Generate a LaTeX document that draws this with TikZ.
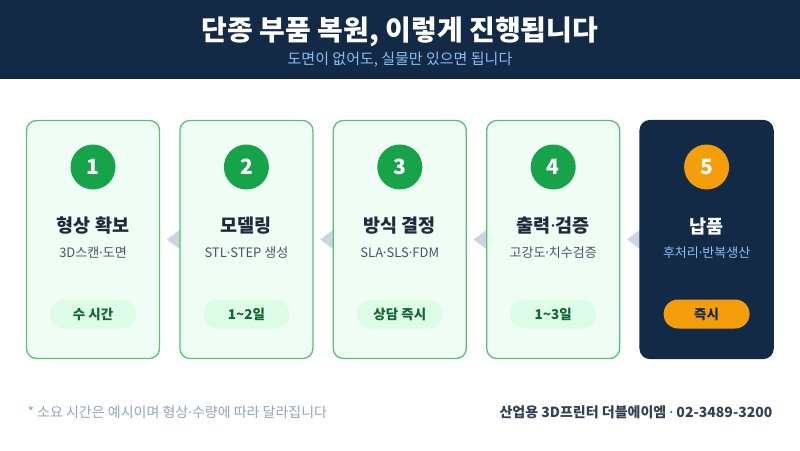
\documentclass[tikz,border=0pt]{standalone}
\usepackage{fontspec}
\setmainfont{Noto Sans CJK KR}
\newfontfamily\dotfont{Noto Sans}
\newcommand{\md}{{\dotfont\char"00B7}}
\usetikzlibrary{shapes.geometric,positioning,backgrounds}
\definecolor{navy}{HTML}{122A45}
\definecolor{stepgreen}{HTML}{16A34A}
\definecolor{cardfill}{HTML}{F0FDF4}
\definecolor{cardline}{HTML}{5BBF7A}
\definecolor{pillfill}{HTML}{DCFCE7}
\definecolor{pilltext}{HTML}{166534}
\definecolor{orange}{HTML}{F59E0B}
\definecolor{lightblue}{HTML}{8CBDF5}
\definecolor{titlec}{HTML}{1E293B}
\definecolor{subc}{HTML}{475569}
\definecolor{arrowc}{HTML}{CBD5E1}
\definecolor{notec}{HTML}{94A3B8}
\definecolor{footc}{HTML}{334155}

\begin{document}
\begin{tikzpicture}[x=1pt,y=-1pt]
\tikzstyle{card}=[rectangle, rounded corners=10pt, draw=cardline, line width=1.3pt,
	fill=cardfill, minimum width=133pt, minimum height=238pt, node distance=153.4pt]
\tikzstyle{num}=[circle, fill=stepgreen, minimum size=45pt, inner sep=0pt, text=white,
	font=\bfseries\fontsize{21}{24}\selectfont, node distance=153.4pt]
\tikzstyle{steptitle}=[text=titlec, font=\bfseries\fontsize{18.5}{22}\selectfont, node distance=153.4pt]
\tikzstyle{stepsub}=[text=subc, font=\fontsize{13}{16}\selectfont, node distance=153.4pt]
\tikzstyle{pill}=[rectangle, rounded corners=14.5pt, fill=pillfill, text=pilltext,
	minimum width=86pt, minimum height=29pt, inner sep=0pt,
	font=\bfseries\fontsize{13.5}{16}\selectfont, node distance=153.4pt]
\useasboundingbox (0,0) rectangle (800,450);

% header
\node[rectangle, fill=navy, minimum width=800pt, minimum height=79pt, inner sep=0pt] (head) at (400,39.5) {};
\node[text=white, font=\bfseries\fontsize{28}{32}\selectfont] (title) at (400,32) {단종 부품 복원, 이렇게 진행됩니다};
\node[text=lightblue, font=\fontsize{15}{18}\selectfont] (subtitle) at (400,60) {도면이 없어도, 실물만 있으면 됩니다};

% cards
\node[card] (c1) at (93,239.5) {};
\node[right of = c1,card] (c2) {};
\node[right of = c2,card] (c3) {};
\node[right of = c3,card] (c4) {};
\node[right of = c4,card,fill=navy,draw=navy] (c5) {};

% step numbers
\node[num] (n1) at (93,167) {1};
\node[right of = n1,num] (n2) {2};
\node[right of = n2,num] (n3) {3};
\node[right of = n3,num] (n4) {4};
\node[right of = n4,num,fill=orange] (n5) {5};

% step names
\node[steptitle] (t1) at (93,226) {형상 확보};
\node[right of = t1,steptitle] (t2) {모델링};
\node[right of = t2,steptitle] (t3) {방식 결정};
\node[right of = t3,steptitle] (t4) {출력\md 검증};
\node[right of = t4,steptitle,text=white] (t5) {납품};

\node[stepsub] (s1) at (93,253) {3D스캔\md 도면};
\node[right of = s1,stepsub] (s2) {STL\md STEP 생성};
\node[right of = s2,stepsub] (s3) {SLA\md SLS\md FDM};
\node[right of = s3,stepsub] (s4) {고강도\md 치수검증};
\node[right of = s4,stepsub,text=lightblue] (s5) {후처리\md 반복생산};

% durations
\node[pill] (p1) at (93,314) {수 시간};
\node[right of = p1,pill] (p2) {1\textasciitilde2일};
\node[right of = p2,pill] (p3) {상담 즉시};
\node[right of = p3,pill] (p4) {1\textasciitilde3일};
\node[right of = p4,pill,fill=orange,text=navy] (p5) {즉시};

% arrows between cards
\begin{scope}[on background layer]
\fill[arrowc] (c2.west) +(1,-10) -- +(-12.5,0) -- +(1,10) -- cycle;
\fill[arrowc] (c3.west) +(1,-10) -- +(-12.5,0) -- +(1,10) -- cycle;
\fill[arrowc] (c4.west) +(1,-10) -- +(-12.5,0) -- +(1,10) -- cycle;
\fill[arrowc] (c5.west) +(1,-10) -- +(-12.5,0) -- +(1,10) -- cycle;
\end{scope}

% footer
\node[anchor=west, text=notec, font=\fontsize{14}{16}\selectfont] (note) at (24,412) {* 소요 시간은 예시이며 형상\md 수량에 따라 달라집니다};
\node[anchor=east, text=footc, font=\bfseries\fontsize{14}{16}\selectfont] (foot) at (776,412) {산업용 3D프린터 더블에이엠 \md{} 02-3489-3200};

\end{tikzpicture}
\end{document}
